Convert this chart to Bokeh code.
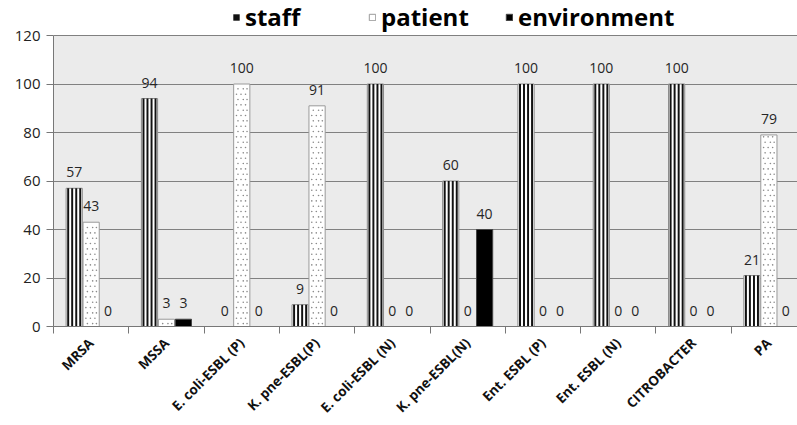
import numpy as np
from bokeh.plotting import figure
from bokeh.models import (ColumnDataSource, Range1d, FixedTicker, Legend, LegendItem, LabelSet,
                          BoxAnnotation)
from bokeh.core.properties import value
from bokeh.embed import file_html
from bokeh.resources import INLINE

categories = ["MRSA", "MSSA", "E. coli-ESBL (P)", "K. pne-ESBL(P)", "E. coli-ESBL (N)",
              "K. pne-ESBL(N)", "Ent. ESBL (P)", "Ent. ESBL (N)", "CITROBACTER", "PA"]
staff = [57, 94, 0, 9, 100, 60, 100, 100, 100, 21]
patient = [43, 3, 100, 91, 0, 0, 0, 0, 0, 79]
environment = [0, 3, 0, 0, 0, 40, 0, 0, 0, 0]
series_names = ["staff", "patient", "environment"]
y_ticks = [0, 20, 40, 60, 80, 100, 120]
y_max = 120

FONT = "Open Sans"
idx = np.arange(len(categories))
centers = idx + 0.5

# frame spans the full top of the picture; the grey plot area is drawn up to y_max
p = figure(width=797, height=425, output_backend="svg", toolbar_location=None,
           x_range=Range1d(0, 9.88), y_range=Range1d(0, y_max * 326 / 291),
           min_border_left=53, min_border_right=0, min_border_bottom=99, min_border_top=0)
p.background_fill_color = "white"
p.border_fill_color = "white"
p.outline_line_color = None
p.add_layout(BoxAnnotation(bottom=0, top=y_max, fill_color="#ebebeb", fill_alpha=1,
                           line_color=None, level="image"))

width = 0.215
offsets = [-0.225, 0.0, 0.225]
all_vals = [staff, patient, environment]

srcs = [ColumnDataSource(dict(x=centers + off, top=vals, lab=[str(v) for v in vals]))
        for vals, off in zip(all_vals, offsets)]

# staff: white bar with black vertical stripes
r_staff_base = p.vbar(x="x", top="top", width=width, source=srcs[0],
                      fill_color="white", line_color="#8a8a8a", line_width=1)
stripe_off = np.array([-0.08, -0.027, 0.027, 0.08])
sx = (np.asarray(centers + offsets[0])[:, None] + stripe_off[None, :]).ravel()
stop = np.repeat(staff, len(stripe_off))
r_staff = p.vbar(x=sx, top=stop, width=0.026, fill_color="#111111", line_color=None)

# patient: white bar with grey dots
r_pat = p.vbar(x="x", top="top", width=width, source=srcs[1],
               fill_color="white", line_color="#9a9a9a", line_width=1)
dx, dy = [], []
for c, v in zip(centers + offsets[1], patient):
    ys = np.arange(1.2, v, 2.2)
    for j, yy in enumerate(ys):
        xo = [-0.05, 0.02, 0.07] if j % 2 == 0 else [-0.07, -0.01, 0.05]
        for o in xo:
            dx.append(c + o)
            dy.append(yy)
p.scatter(x=dx, y=dy, size=1.6, color="#8a8a8a", line_color=None)

# environment: solid black
r_env = p.vbar(x="x", top="top", width=width, source=srcs[2],
               fill_color="black", line_color="#444444", line_width=1)

for src in srcs:
    p.add_layout(LabelSet(x="x", y="top", text="lab", source=src, text_align="center",
                          text_baseline="alphabetic", y_offset=11, text_font_size="14px",
                          text_font=value(FONT), text_color="#262626"))

# legend: one entry each, placed above the grey area
leg_x = [179, 315, 452]
for name, r, lx in zip(series_names, [r_staff, r_pat, r_env], leg_x):
    lg = Legend(items=[LegendItem(label=name, renderers=[r])],
                orientation="horizontal", location=(lx, 293),
                label_text_font_size="24px", label_text_font_style="bold", label_text_font=FONT,
                label_text_color="black", glyph_width=8, glyph_height=8,
                label_standoff=5, border_line_color=None, background_fill_alpha=0,
                padding=0, margin=0)
    p.add_layout(lg, "center")

# y axis
p.yaxis.ticker = FixedTicker(ticks=y_ticks)
p.yaxis.bounds = (0, y_max)
p.yaxis.major_label_text_font = FONT
p.yaxis.major_label_text_font_size = "15px"
p.yaxis.major_label_text_color = "#222222"
p.yaxis.axis_line_color = "#777777"
p.yaxis.major_tick_line_color = "#777777"
p.yaxis.major_tick_in = 0
p.yaxis.major_tick_out = 7
p.yaxis.major_label_standoff = 6
p.yaxis.minor_tick_line_color = None
p.ygrid.ticker = FixedTicker(ticks=y_ticks)
p.ygrid.grid_line_color = "#808080"
p.ygrid.grid_line_width = 1
p.xgrid.grid_line_color = None

# x axis: labels at centers, tick marks at boundaries
p.xaxis.ticker = FixedTicker(ticks=list(centers), minor_ticks=[float(i) for i in range(len(categories) + 1)])
p.xaxis.major_label_overrides = {float(c): n for c, n in zip(centers, categories)}
p.xaxis.major_label_orientation = np.pi / 4
p.xaxis.major_label_text_font = FONT
p.xaxis.major_label_text_font_size = "13.5px"
p.xaxis.major_label_text_font_style = "bold"
p.xaxis.major_label_text_color = "#111111"
p.xaxis.major_tick_line_color = None
p.xaxis.minor_tick_line_color = "#777777"
p.xaxis.minor_tick_in = 0
p.xaxis.minor_tick_out = 7
p.xaxis.axis_line_color = "#777777"
p.xaxis.major_label_standoff = 7

open("out.html", "w").write(file_html(p, INLINE))
